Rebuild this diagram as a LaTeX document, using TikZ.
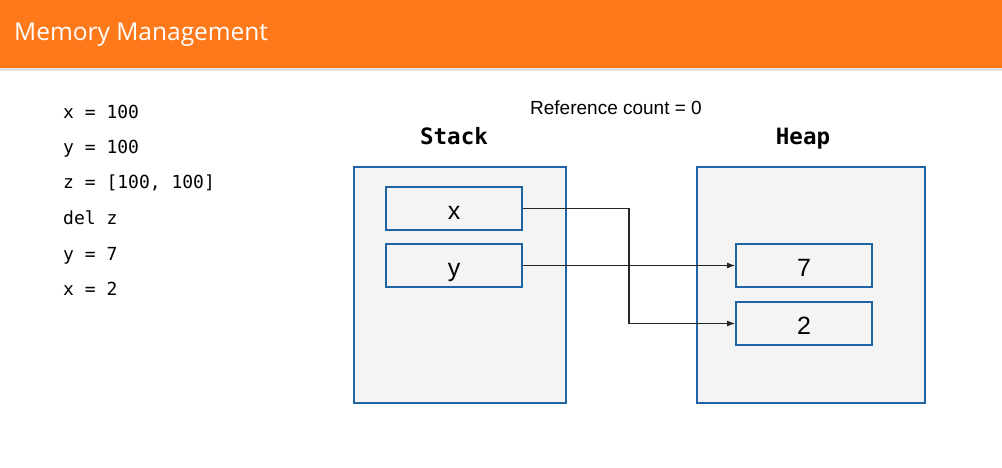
\documentclass[tikz,border=0pt]{standalone}
\usepackage{fontspec}
\setmainfont{Liberation Sans}
\newfontfamily\titlefont{Open Sans}
\newfontfamily\codefont{DejaVu Sans Mono}
\usetikzlibrary{arrows.meta}
\definecolor{hdr}{RGB}{255,121,26}
\definecolor{bordblue}{RGB}{31,101,163}
\definecolor{panel}{RGB}{244,244,244}
\tikzset{
  code/.style={anchor=base west, inner sep=0pt, font=\codefont\fontsize{18}{20}\selectfont},
  panelbox/.style={draw=bordblue, line width=1.6pt, fill=panel, inner sep=0pt},
  cell/.style={draw=bordblue, line width=1.6pt, fill=panel, minimum width=136pt, minimum height=43pt, inner sep=0pt, text height=21pt, text depth=0pt, font=\fontsize{25}{27}\selectfont},
  heading/.style={anchor=base, font=\codefont\bfseries\fontsize{22.5}{24}\selectfont, inner sep=0pt},
  link/.style={draw=black!85, line width=1.3pt, -{Latex[length=8pt,width=6pt]}}
}
\begin{document}
\begin{tikzpicture}[x=1pt,y=-1pt]
\useasboundingbox (0,0) rectangle (1002,468);
\fill[white] (0,0) rectangle (1002,468);
\fill[black!12] (0,68) rectangle (1002,71);
\fill[hdr] (0,0) rectangle (1002,68);
\node[anchor=base west, inner sep=0pt, text=white, font=\titlefont\fontsize{24.5}{27}\selectfont] (title) at (14,41) {Memory Management};

\node[code] (c1) at (63,119) {x = 100};
\node[code] (c2) at (63,154) {y = 100};
\node[code] (c3) at (63,189) {z = [100, 100]};
\node[code] (c4) at (63,225) {del z};
\node[code] (c5) at (63,260) {y = 7};
\node[code] (c6) at (63,295) {x = 2};

\node[anchor=base, inner sep=0pt, font=\fontsize{19}{21}\selectfont] (rc) at (616,115) {Reference count = 0};
\node[heading] (stacklbl) at (454,145) {Stack};
\node[heading] (heaplbl) at (803,145) {Heap};

\node[panelbox, minimum width=212pt, minimum height=236pt] (stack) at (460,285) {};
\node[panelbox, minimum width=228pt, minimum height=236pt] (heap) at (811,285) {};

\node[cell] (vx) at (454,208.5) {x};
\node[cell] (vy) at (454,265.5) {y};
\node[cell] (h7) at (804,265.5) {7};
\node[cell] (h2) at (804,323.5) {2};

\coordinate (bend1) at (629,208.5);
\coordinate (bend2) at (629,323.5);
\draw[link] (vx.east) -- (bend1) -- (bend2) -- (h2.west);
\draw[link] (vy.east) -- (h7.west);
\end{tikzpicture}
\end{document}
